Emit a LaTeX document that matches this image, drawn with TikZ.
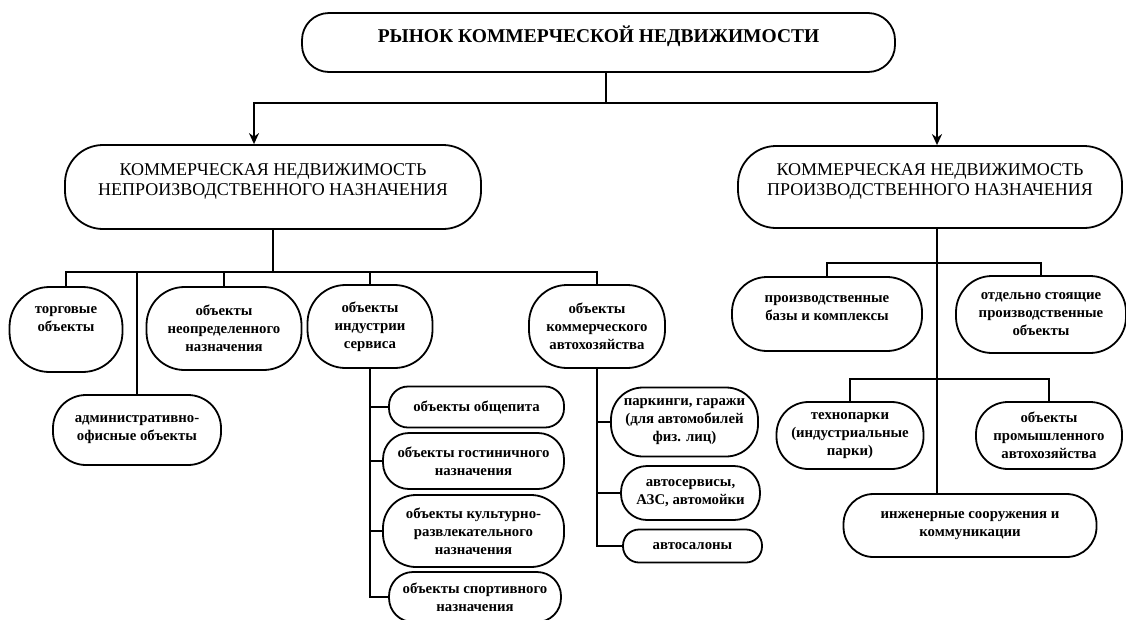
\documentclass[tikz,border=0pt]{standalone}
\usepackage{fontspec}
\setmainfont{Liberation Serif}
\usetikzlibrary{arrows.meta}
\begin{document}
\begin{tikzpicture}[x=1pt,y=-1pt,
  bx/.style={draw, line width=1.8pt, align=center, inner sep=0pt, fill=white},
  ttl/.style={bx, font=\bfseries\fontsize{19.5}{22}\selectfont},
  lvl/.style={bx, font=\fontsize{18}{20}\selectfont},
  itm/.style={bx, font=\bfseries\fontsize{14.8}{18}\selectfont},
  ln/.style={line width=1.8pt},
  arr/.style={line width=1.8pt, -{Stealth[length=11pt,width=10pt]}}]
\fill[white] (0,0) rectangle (1126,619);
\useasboundingbox (0,0) rectangle (1126,619);

% top
\node[ttl, minimum width=593pt, minimum height=59pt, rounded corners=27pt, text depth=16pt] (top) at (598.5,42.5) {РЫНОК КОММЕРЧЕСКОЙ НЕДВИЖИМОСТИ};

% level 2
\node[lvl, minimum width=416pt, minimum height=84pt, rounded corners=38pt, text depth=14pt] (L) at (273,187) {КОММЕРЧЕСКАЯ НЕДВИЖИМОСТЬ\\НЕПРОИЗВОДСТВЕННОГО НАЗНАЧЕНИЯ};
\node[lvl, minimum width=384pt, minimum height=82pt, rounded corners=38pt, text depth=14pt] (R) at (930,187) {КОММЕРЧЕСКАЯ НЕДВИЖИМОСТЬ\\ПРОИЗВОДСТВЕННОГО НАЗНАЧЕНИЯ};

% left items
\node[itm, minimum width=113pt, minimum height=85pt, rounded corners=40pt, text depth=20pt] (torg) at (66,329.5) {торговые\\объекты};
\node[itm, minimum width=168pt, minimum height=70pt, rounded corners=33pt] (adm) at (137,430) {административно-\\офисные объекты};
\node[itm, minimum width=155pt, minimum height=83pt, rounded corners=38pt] (neop) at (224,328.5) {объекты\\неопределенного\\назначения};
\node[itm, minimum width=125pt, minimum height=83pt, rounded corners=38pt] (ind) at (370,326.5) {объекты\\индустрии\\сервиса};
\node[itm, minimum width=136pt, minimum height=83pt, rounded corners=38pt] (avto) at (597,326.5) {объекты\\коммерческого\\автохозяйства};

\node[itm, minimum width=175pt, minimum height=41pt, rounded corners=19pt] (obsh) at (476.5,407) {объекты общепита};
\node[itm, minimum width=181pt, minimum height=56pt, rounded corners=26pt] (gost) at (473.5,461) {объекты гостиничного\\назначения};
\node[itm, minimum width=181pt, minimum height=72pt, rounded corners=33pt] (kult) at (473.5,531) {объекты культурно-\\развлекательного\\назначения};
\node[itm, minimum width=172pt, minimum height=50pt, rounded corners=24pt] (sport) at (475,597) {объекты спортивного\\назначения};

\node[itm, minimum width=147pt, minimum height=69pt, rounded corners=32pt] (park) at (684.5,422) {паркинги, гаражи\\(для автомобилей\\физ. лиц)};
\node[itm, minimum width=139pt, minimum height=54pt, rounded corners=26pt] (serv) at (690.5,493) {автосервисы,\\АЗС, автомойки};
\node[itm, minimum width=139pt, minimum height=33pt, rounded corners=16pt] (salon) at (692.5,546) {автосалоны};

% right items
\node[itm, minimum width=190pt, minimum height=74pt, rounded corners=35pt, text depth=12pt] (base) at (827,314) {производственные\\базы и комплексы};
\node[itm, minimum width=170pt, minimum height=77pt, rounded corners=36pt] (sep) at (1041,314.5) {отдельно стоящие\\производственные\\объекты};
\node[itm, minimum width=147pt, minimum height=67pt, rounded corners=32pt] (tech) at (850,435.5) {технопарки\\(индустриальные\\парки)};
\node[itm, minimum width=146pt, minimum height=67pt, rounded corners=32pt] (prom) at (1049,435.5) {объекты\\промышленного\\автохозяйства};
\node[itm, minimum width=253pt, minimum height=63pt, rounded corners=30pt] (inzh) at (970,525.5) {инженерные сооружения и\\коммуникации};

% connectors: top
\coordinate (tb) at (606,103);
\draw[ln] (top.south -| tb) -- (tb);
\draw[arr] (tb) -| (L.north -| 254,0);
\draw[arr] (tb) -| (R.north -| 937,0);

% left bus
\coordinate (lb) at (273,272);
\draw[ln] (L.south) -- (lb);
\draw[ln] (torg.north) -- (torg.north |- lb) -- (avto.north |- lb) -- (avto.north);
\draw[ln] (adm.north) -- (adm.north |- lb);
\draw[ln] (neop.north) -- (neop.north |- lb);
\draw[ln] (ind.north) -- (ind.north |- lb);

% industry trunk
\draw[ln] (ind.south) |- (sport.west);
\draw[ln] (ind.south |- obsh.west) -- (obsh.west);
\draw[ln] (ind.south |- gost.west) -- (gost.west);
\draw[ln] (ind.south |- kult.west) -- (kult.west);

% auto trunk
\draw[ln] (avto.south) |- (salon.west);
\draw[ln] (avto.south |- park.west) -- (park.west);
\draw[ln] (avto.south |- serv.west) -- (serv.west);

% right trunk
\coordinate (rt) at (937,263);
\coordinate (rb) at (937,379);
\draw[ln] (R.south -| rt) -- (inzh.north -| rt);
\draw[ln] (base.north) -- (base.north |- rt) -- (sep.north |- rt) -- (sep.north);
\draw[ln] (tech.north) -- (tech.north |- rb) -- (prom.north |- rb) -- (prom.north);
\end{tikzpicture}
\end{document}
